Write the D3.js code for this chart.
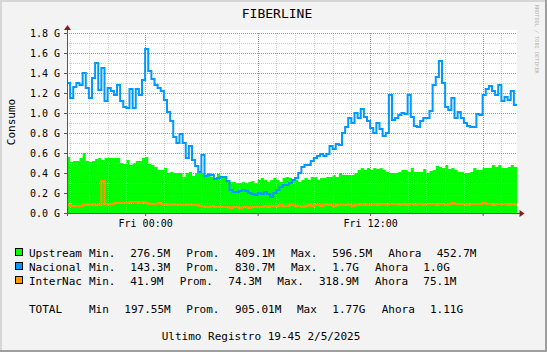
<!DOCTYPE html>
<html>
<head>
<meta charset="utf-8">
<script src="https://cdn.jsdelivr.net/npm/d3@7"></script>
<style>
  body { margin: 0; background: #f3f3f3; }
  svg { display: block; font-family: 'DejaVu Sans Mono', monospace; }
</style>
</head>
<body>
<svg></svg>
<script>
const w = 547
const h = 352

// 10 minute samples, starting Thu 1/5/2025 19:50
const startTime = new Date(2025, 4, 1, 19, 50)
const stepMinutes = 10

const upstream = [
  0.56,0.51,0.52,0.52,0.55,0.60,0.52,0.51,0.52,0.54,
  0.55,0.53,0.55,0.55,0.55,0.55,0.55,0.50,0.49,0.53,
  0.48,0.50,0.52,0.52,0.55,0.56,0.49,0.48,0.46,0.43,
  0.43,0.45,0.40,0.41,0.40,0.40,0.40,0.36,0.40,0.41,
  0.37,0.40,0.40,0.40,0.37,0.40,0.36,0.35,0.39,0.36,
  0.35,0.31,0.31,0.31,0.30,0.30,0.31,0.30,0.31,0.32,
  0.30,0.33,0.35,0.33,0.31,0.33,0.35,0.33,0.31,0.35,
  0.36,0.35,0.33,0.33,0.31,0.33,0.35,0.33,0.36,0.36,
  0.33,0.35,0.35,0.36,0.36,0.38,0.36,0.40,0.38,0.38,
  0.38,0.38,0.40,0.43,0.45,0.43,0.45,0.43,0.45,0.44,
  0.45,0.43,0.41,0.40,0.40,0.40,0.41,0.43,0.43,0.41,
  0.45,0.41,0.41,0.41,0.44,0.40,0.42,0.43,0.47,0.46,
  0.45,0.48,0.44,0.45,0.43,0.41,0.41,0.40,0.40,0.41,
  0.45,0.43,0.43,0.45,0.45,0.45,0.48,0.46,0.48,0.45,
  0.45,0.46,0.48,0.46
]

const nacional = [
  1.30,1.15,1.26,1.30,1.28,1.40,1.25,1.15,1.35,1.50,
  1.23,1.45,1.12,1.25,1.22,1.18,1.28,1.12,1.06,1.05,
  1.24,1.05,1.24,1.18,1.33,1.64,1.42,1.34,1.28,1.25,
  1.22,1.13,1.01,0.92,0.76,0.70,0.79,0.70,0.55,0.67,
  0.53,0.47,0.41,0.58,0.37,0.38,0.38,0.34,0.35,0.36,
  0.36,0.32,0.23,0.21,0.21,0.22,0.23,0.22,0.20,0.19,
  0.18,0.20,0.19,0.21,0.19,0.16,0.20,0.23,0.26,0.28,
  0.28,0.30,0.33,0.35,0.40,0.46,0.48,0.48,0.52,0.55,
  0.57,0.59,0.57,0.59,0.67,0.64,0.69,0.68,0.80,0.86,
  0.95,0.90,1.00,0.95,1.04,0.96,0.92,0.85,0.80,0.90,
  0.84,0.77,0.80,1.18,0.93,0.95,0.98,1.00,0.99,1.18,
  0.96,0.87,0.86,0.92,0.95,0.95,1.02,1.28,1.36,1.52,
  1.30,1.06,1.03,1.15,0.95,1.01,0.95,0.90,0.87,0.86,
  0.86,0.99,0.98,1.18,1.24,1.27,1.22,1.18,1.28,1.12,
  1.16,1.13,1.22,1.08
]

const internac = [
  0.08,0.07,0.07,0.07,0.07,0.08,0.08,0.08,0.08,0.08,
  0.08,0.32,0.09,0.09,0.09,0.10,0.10,0.10,0.10,0.10,
  0.11,0.11,0.11,0.10,0.11,0.10,0.09,0.09,0.09,0.10,
  0.09,0.09,0.08,0.08,0.08,0.08,0.08,0.08,0.08,0.08,
  0.08,0.08,0.07,0.07,0.06,0.06,0.07,0.06,0.06,0.06,
  0.06,0.06,0.05,0.06,0.06,0.05,0.06,0.06,0.05,0.06,
  0.06,0.06,0.06,0.07,0.06,0.07,0.07,0.07,0.08,0.07,
  0.07,0.08,0.08,0.07,0.07,0.06,0.07,0.08,0.07,0.08,
  0.08,0.07,0.08,0.08,0.08,0.07,0.08,0.08,0.08,0.08,
  0.08,0.07,0.08,0.08,0.09,0.08,0.08,0.08,0.09,0.08,
  0.09,0.09,0.08,0.09,0.09,0.09,0.08,0.09,0.08,0.09,
  0.09,0.08,0.09,0.09,0.08,0.09,0.09,0.09,0.08,0.09,
  0.09,0.08,0.09,0.10,0.09,0.09,0.09,0.09,0.08,0.09,
  0.09,0.09,0.09,0.10,0.09,0.09,0.08,0.09,0.09,0.09,
  0.09,0.08,0.09,0.08
]

const yTicks = [0, 0.2, 0.4, 0.6, 0.8, 1.0, 1.2, 1.4, 1.6, 1.8]
const yMinorTicks = [0.1, 0.3, 0.5, 0.7, 0.9, 1.1, 1.3, 1.5, 1.7]

// legend texts
const seriesNames = ['Upstream', 'Nacional', 'InterNac']
const seriesColors = ['#00ff00', '#0099ff', '#ff9900']
const statMin = ['276.5M', '143.3M', '41.9M']
const statProm = ['409.1M', '830.7M', '74.3M']
const statMax = ['596.5M', '1.7G', '318.9M']
const statAhora = ['452.7M', '1.0G', '75.1M']
const totalStats = ['197.55M', '905.01M', '1.77G', '1.11G']

const title = 'FIBERLINE'
const yAxisLabel = 'Consumo'
const footer = 'Ultimo Registro 19-45 2/5/2025'
const watermark = 'RRDTOOL / TOBI OETIKER'

const svg = d3.select('svg')
  .attr('width', w)
  .attr('height', h)

const plot = {left: 67, right: 517, top: 33, bottom: 213}

const endTime = d3.timeMinute.offset(startTime, stepMinutes * upstream.length)

const xScale = d3.scaleTime()
  .domain([startTime, endTime])
  .range([plot.left, plot.right])

const yScale = d3.scaleLinear()
  .domain([0, 1.8])
  .range([plot.bottom, plot.top])

// frame
svg.append('rect').attr('width', w).attr('height', h).attr('fill', '#f3f3f3')
svg.append('rect').attr('x', 0).attr('y', 0).attr('width', w).attr('height', 2).attr('fill', '#d6d6d6')
svg.append('rect').attr('x', 0).attr('y', 0).attr('width', 2).attr('height', h).attr('fill', '#d6d6d6')
svg.append('rect').attr('x', w - 2).attr('y', 0).attr('width', 2).attr('height', h).attr('fill', '#9e9e9e')
svg.append('rect').attr('x', 0).attr('y', h - 2).attr('width', w).attr('height', 2).attr('fill', '#9e9e9e')

// plot background
svg.append('rect')
  .attr('x', plot.left).attr('y', plot.top - 3)
  .attr('width', plot.right - plot.left)
  .attr('height', plot.bottom - plot.top + 3)
  .attr('fill', '#ffffff')

const toPoints = vals => {
  const pts = vals.map((v, i) => ({t: d3.timeMinute.offset(startTime, i * stepMinutes), v}))
  pts.push({t: endTime, v: vals[vals.length - 1]}) // close last step
  return pts
}

const area = d3.area()
  .x(d => xScale(d.t))
  .y0(yScale(0))
  .y1(d => yScale(d.v))
  .curve(d3.curveStepAfter)

const line = d3.line()
  .x(d => xScale(d.t))
  .y(d => yScale(d.v))
  .curve(d3.curveStepAfter)

svg.append('path')
  .attr('d', area(toPoints(upstream)))
  .attr('fill', seriesColors[0])

// grid (drawn over the area like rrdtool)
const grid = svg.append('g')
const hourTicks = d3.timeHour.every(1).range(startTime, endTime)
const sixTicks = d3.timeHour.every(6).range(startTime, endTime)

grid.selectAll('.vminor').data(hourTicks).enter().append('line')
  .attr('x1', d => Math.round(xScale(d)) + 0.5).attr('x2', d => Math.round(xScale(d)) + 0.5)
  .attr('y1', plot.top).attr('y2', plot.bottom)
  .attr('stroke', 'rgba(200,200,200,0.85)').attr('stroke-dasharray', '1,1')
grid.selectAll('.hminor').data(yMinorTicks).enter().append('line')
  .attr('x1', plot.left).attr('x2', plot.right)
  .attr('y1', d => Math.round(yScale(d)) + 0.5).attr('y2', d => Math.round(yScale(d)) + 0.5)
  .attr('stroke', 'rgba(200,200,200,0.85)').attr('stroke-dasharray', '1,1')
grid.selectAll('.vmajor').data(sixTicks).enter().append('line')
  .attr('x1', d => Math.round(xScale(d)) + 0.5).attr('x2', d => Math.round(xScale(d)) + 0.5)
  .attr('y1', plot.top).attr('y2', plot.bottom)
  .attr('stroke', 'rgba(140,140,140,0.85)').attr('stroke-dasharray', '1,1')
grid.selectAll('.hmajor').data(yTicks.slice(1)).enter().append('line')
  .attr('x1', plot.left).attr('x2', plot.right)
  .attr('y1', d => Math.round(yScale(d)) + 0.5).attr('y2', d => Math.round(yScale(d)) + 0.5)
  .attr('stroke', 'rgba(140,140,140,0.85)').attr('stroke-dasharray', '1,1')

svg.append('path')
  .attr('d', line(toPoints(nacional)))
  .attr('fill', 'none')
  .attr('stroke', seriesColors[1])
  .attr('stroke-width', 2)

svg.append('path')
  .attr('d', line(toPoints(internac)))
  .attr('fill', 'none')
  .attr('stroke', seriesColors[2])
  .attr('stroke-width', 2)

// axes
const yAxis = d3.axisLeft(yScale)
  .tickValues(yTicks)
  .tickFormat(d => d3.format('.1f')(d) + ' G')
  .tickSize(3)
  .tickPadding(4)

const yAxisG = svg.append('g')
  .attr('transform', `translate(${plot.left},0)`)
  .call(yAxis)
yAxisG.select('.domain').remove()
yAxisG.selectAll('text').attr('font-size', 10).attr('font-family', 'DejaVu Sans Mono').attr('fill', '#000')
yAxisG.selectAll('line').attr('stroke', '#555')

const xAxis = d3.axisBottom(xScale)
  .tickValues(sixTicks)
  .tickFormat(d => d.getHours() % 12 === 0 ? d3.timeFormat('%a %H:%M')(d) : '')
  .tickSize(3)
  .tickPadding(4)

const xAxisG = svg.append('g')
  .attr('transform', `translate(0,${plot.bottom})`)
  .call(xAxis)
xAxisG.select('.domain').remove()
xAxisG.selectAll('text').attr('font-size', 10).attr('font-family', 'DejaVu Sans Mono').attr('fill', '#000')
xAxisG.selectAll('line').attr('stroke', '#555')

// axis lines and arrows
svg.append('line')
  .attr('x1', plot.left + 0.5).attr('x2', plot.left + 0.5)
  .attr('y1', plot.bottom + 3).attr('y2', plot.top - 5)
  .attr('stroke', '#555')
svg.append('line')
  .attr('x1', plot.left - 3).attr('x2', plot.right + 3)
  .attr('y1', plot.bottom + 0.5).attr('y2', plot.bottom + 0.5)
  .attr('stroke', '#555')
svg.append('path')
  .attr('d', `M${plot.left + 0.5},${plot.top - 8} l-3.5,5 h7 z`)
  .attr('fill', '#8b1a1a')
svg.append('path')
  .attr('d', `M${plot.right + 7.5},${plot.bottom + 0.5} l-5,-3.5 v7 z`)
  .attr('fill', '#8b1a1a')

// title & labels
svg.append('text')
  .attr('x', 277).attr('y', 18)
  .attr('text-anchor', 'middle')
  .attr('font-size', 13)
  .text(title)

svg.append('text')
  .attr('transform', 'translate(15,122) rotate(-90)')
  .attr('text-anchor', 'middle')
  .attr('font-size', 11)
  .text(yAxisLabel)

svg.append('text')
  .attr('transform', 'translate(535,5) rotate(90)')
  .attr('font-size', 5.2)
  .attr('fill', '#b4b4b4')
  .text(watermark)

// legend
const colX = [
  [29, 89, 130.3, 186.3, 235, 291, 332.3, 388.3, 436.7],
  [29, 89, 130.3, 186.3, 235, 291, 332.3, 375, 423.3],
  [29, 89, 130.3, 179.7, 228.3, 277.3, 319, 375, 423.3],
  [29, 89, 124.3, 186.3, 235, 297, 332.3, 381.7, 430]
]
const rowY = [256.5, 270.5, 284.5, 312.5]

const legendRows = seriesNames.map((n, i) =>
  [n, 'Min.', statMin[i], 'Prom.', statProm[i], 'Max.', statMax[i], 'Ahora', statAhora[i]])
legendRows.push(['TOTAL', 'Min', totalStats[0], 'Prom.', totalStats[1], 'Max', totalStats[2], 'Ahora', totalStats[3]])

const legend = svg.append('g').attr('font-size', 11)
legendRows.forEach((tokens, r) => {
  legend.selectAll(null).data(tokens).enter().append('text')
    .attr('x', (d, c) => colX[r][c])
    .attr('y', rowY[r])
    .text(d => d)
})

legend.selectAll('rect').data(seriesColors).enter().append('rect')
  .attr('x', 15.5).attr('y', (d, i) => rowY[i] - 8)
  .attr('width', 7).attr('height', 7)
  .attr('fill', d => d)
  .attr('stroke', '#000')

svg.append('text')
  .attr('x', 161.7).attr('y', 340)
  .attr('font-size', 11)
  .text(footer)
</script>
</body>
</html>
